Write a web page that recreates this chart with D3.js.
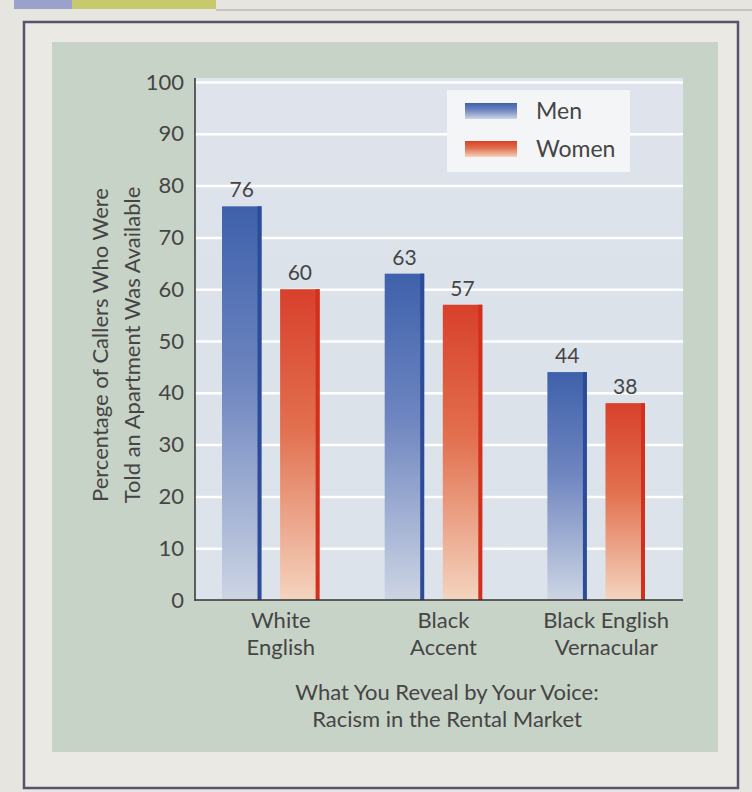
<!DOCTYPE html>
<html>
<head>
<meta charset="utf-8">
<script src="https://cdn.jsdelivr.net/npm/d3@7"></script>
<style>
  body { margin: 0; background: #e7e5df; }
  svg { display: block; font-family: Lato, "Open Sans", sans-serif; }
</style>
</head>
<body>
<svg id="chart"></svg>
<script>
var categories = [["White", "English"], ["Black", "Accent"], ["Black English", "Vernacular"]];
var series = ["Men", "Women"];
var menValues = [76, 63, 44];
var womenValues = [60, 57, 38];
var yTicks = [0, 10, 20, 30, 40, 50, 60, 70, 80, 90, 100];
var yTitle = ["Percentage of Callers Who Were", "Told an Apartment Was Available"];
var xTitle = ["What You Reveal by Your Voice:", "Racism in the Rental Market"];

var catKeys = categories.map(function(c) { return c.join(" "); });
var data = catKeys.map(function(k, i) {
  return {key: k, values: [{s: "Men", v: menValues[i]}, {s: "Women", v: womenValues[i]}]};
});

var svg = d3.select("#chart").attr("width", 752).attr("height", 792);

// page header strip
svg.append("rect").attr("x", 14).attr("y", 0).attr("width", 58).attr("height", 9).attr("fill", "#9aa2cc");
svg.append("rect").attr("x", 72).attr("y", 0).attr("width", 144).attr("height", 9).attr("fill", "#c8c86c");
svg.append("line").attr("x1", 216).attr("x2", 752).attr("y1", 10).attr("y2", 10)
  .attr("stroke", "#b9b7bd").attr("stroke-width", 1.5);

// box frame
svg.append("rect").attr("x", 24).attr("y", 22).attr("width", 714).attr("height", 766)
  .attr("fill", "#ebe9e3").attr("stroke", "#57536c").attr("stroke-width", 2.5);

// green panel
svg.append("rect").attr("x", 52).attr("y", 42).attr("width", 666).attr("height", 710)
  .attr("fill", "#c8d3c7");

// gradients
var defs = svg.append("defs");
function grad(id, top, mid, bottom) {
  var g = defs.append("linearGradient").attr("id", id)
    .attr("x1", 0).attr("y1", 0).attr("x2", 0).attr("y2", 1);
  g.append("stop").attr("offset", "0%").attr("stop-color", top);
  g.append("stop").attr("offset", "45%").attr("stop-color", mid);
  g.append("stop").attr("offset", "100%").attr("stop-color", bottom);
}
grad("gMen", "#3e61ab", "#6f86c0", "#cdd5e4");
grad("gWomen", "#d8402c", "#e2704f", "#f4d4bf");
grad("gPlot", "#dfe4ec", "#dce2ea", "#dde3ea");

var color = {Men: "url(#gMen)", Women: "url(#gWomen)"};
var edge = {Men: "#2c4c9a", Women: "#d32f1e"};

// scales
var y = d3.scaleLinear().domain([0, 100]).range([600, 82]);
var x0 = d3.scaleBand().domain(catKeys).range([222, 645]).paddingInner(0.4).paddingOuter(0);
var x1 = d3.scaleBand().domain(series).range([0, x0.bandwidth()]).paddingInner(0.32);

// plot background
svg.append("rect").attr("x", 195).attr("y", 78).attr("width", 488).attr("height", 522)
  .attr("fill", "url(#gPlot)");

// gridlines
svg.append("g")
  .attr("transform", "translate(195,0)")
  .call(d3.axisLeft(y).tickValues(yTicks.slice(1)).tickSize(-488).tickFormat(""))
  .call(function(g) { g.select(".domain").remove(); })
  .selectAll("line").attr("stroke", "#ffffff").attr("stroke-width", 2.5);

// bars
var groups = svg.append("g").selectAll("g")
  .data(data).enter().append("g")
  .attr("transform", function(d) { return "translate(" + x0(d.key) + ",0)"; });

groups.selectAll("rect.bar")
  .data(function(d) { return d.values; }).enter().append("rect")
  .attr("class", "bar")
  .attr("x", function(d) { return x1(d.s); })
  .attr("y", function(d) { return y(d.v); })
  .attr("width", x1.bandwidth())
  .attr("height", function(d) { return y(0) - y(d.v); })
  .attr("fill", function(d) { return color[d.s]; });

// dark right edge of each bar
groups.selectAll("rect.edge")
  .data(function(d) { return d.values; }).enter().append("rect")
  .attr("class", "edge")
  .attr("x", function(d) { return x1(d.s) + x1.bandwidth() - 4; })
  .attr("y", function(d) { return y(d.v); })
  .attr("width", 4)
  .attr("height", function(d) { return y(0) - y(d.v); })
  .attr("fill", function(d) { return edge[d.s]; });

// value labels
groups.selectAll("text")
  .data(function(d) { return d.values; }).enter().append("text")
  .attr("x", function(d) { return x1(d.s) + x1.bandwidth() / 2; })
  .attr("y", function(d) { return y(d.v) - 9; })
  .attr("text-anchor", "middle")
  .attr("font-size", 21)
  .attr("fill", "#454545")
  .text(function(d) { return d.v; });

// axes lines
svg.append("line").attr("x1", 195).attr("x2", 195).attr("y1", 78).attr("y2", 601)
  .attr("stroke", "#333").attr("stroke-width", 1.5);
svg.append("line").attr("x1", 195).attr("x2", 683).attr("y1", 600).attr("y2", 600)
  .attr("stroke", "#333").attr("stroke-width", 1.5);

// y tick labels
var yAxis = svg.append("g")
  .attr("transform", "translate(184,0)")
  .call(d3.axisLeft(y).tickValues(yTicks).tickSize(0).tickPadding(0));
yAxis.select(".domain").remove();
yAxis.selectAll("text")
  .attr("font-family", "Lato, sans-serif")
  .attr("font-size", 22)
  .attr("fill", "#454545");

// category labels
var xLabels = svg.append("g").selectAll("text")
  .data(categories).enter().append("text")
  .attr("x", function(d, i) { return x0(catKeys[i]) + x0.bandwidth() / 2 + 10; })
  .attr("y", 628)
  .attr("text-anchor", "middle")
  .attr("font-size", 22)
  .attr("fill", "#454545");
xLabels.selectAll("tspan")
  .data(function(d) { return d; }).enter().append("tspan")
  .attr("x", function() { return d3.select(this.parentNode).attr("x"); })
  .attr("dy", function(d, i) { return i ? 26.5 : 0; })
  .text(function(d) { return d; });

// x title
svg.append("g").selectAll("text")
  .data(xTitle).enter().append("text")
  .attr("x", 447)
  .attr("y", function(d, i) { return 700 + i * 27; })
  .attr("text-anchor", "middle")
  .attr("font-size", 22)
  .attr("fill", "#454545")
  .text(function(d) { return d; });

// y title
svg.append("g").selectAll("text")
  .data(yTitle).enter().append("text")
  .attr("transform", function(d, i) { return "translate(" + (108 + i * 32) + ",345) rotate(-90)"; })
  .attr("text-anchor", "middle")
  .attr("font-size", 22)
  .attr("fill", "#454545")
  .text(function(d) { return d; });

// legend
var legend = svg.append("g").attr("transform", "translate(447,90)");
legend.append("rect").attr("width", 183).attr("height", 82).attr("fill", "#f4f5f7");
legend.selectAll("rect.sw")
  .data(series).enter().append("rect")
  .attr("class", "sw")
  .attr("x", 18)
  .attr("y", function(d, i) { return 13 + i * 38; })
  .attr("width", 52)
  .attr("height", 16)
  .attr("fill", function(d) { return color[d]; });
legend.selectAll("text")
  .data(series).enter().append("text")
  .attr("x", 89)
  .attr("y", function(d, i) { return 29 + i * 38; })
  .attr("font-size", 23)
  .attr("fill", "#454545")
  .text(function(d) { return d; });
</script>
</body>
</html>
